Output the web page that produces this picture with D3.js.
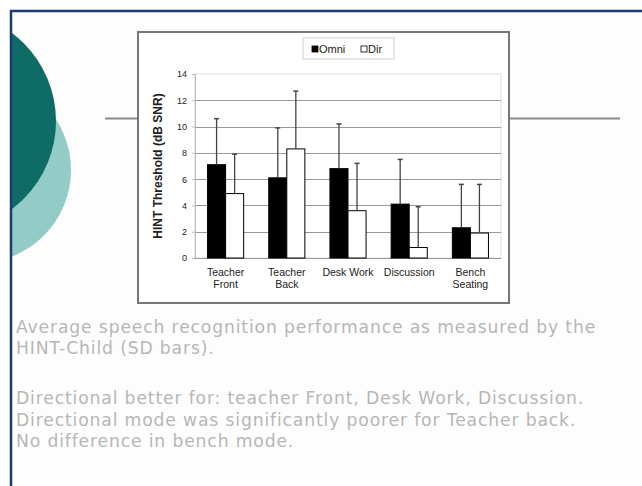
<!DOCTYPE html>
<html><head><meta charset="utf-8">
<script src="https://cdn.jsdelivr.net/npm/d3@7"></script>
<style>html,body{margin:0;padding:0;background:#fff;}svg{display:block;}</style>
</head><body>
<svg id="c" width="642" height="486"></svg>
<script>
const categories = [["Teacher","Front"],["Teacher","Back"],["Desk Work"],["Discussion"],["Bench","Seating"]];
const seriesNames = ["Omni","Dir"];
const omniMean = [7.1, 6.1, 6.8, 4.1, 2.3];
const dirMean  = [4.9, 8.3, 3.6, 0.8, 1.9];
const omniSD   = [3.5, 3.8, 3.4, 3.4, 3.3];
const dirSD    = [3.0, 4.4, 3.6, 3.1, 3.7];
const yTicks = [0, 2, 4, 6, 8, 10, 12, 14];
const yTitle = "HINT Threshold (dB SNR)";
const notes = [
  ["Average speech recognition performance as measured by the", 0],
  ["HINT-Child (SD bars).", 1],
  ["Directional better for: teacher Front, Desk Work, Discussion.", 3.35],
  ["Directional mode was significantly poorer for Teacher back.", 4.35],
  ["No difference in bench mode.", 5.35]
];

const svg = d3.select("#c");
const W = 642, H = 486;
const sans = "Liberation Sans, Arial, sans-serif";

// slide background & decorations
const defs = svg.append("defs");
defs.append("clipPath").attr("id","slideClip").append("rect").attr("x",12).attr("y",12).attr("width",W).attr("height",H);
const deco = svg.append("g").attr("clip-path","url(#slideClip)");
deco.append("rect").attr("x",12).attr("y",12).attr("width",W).attr("height",H).attr("fill","#fdfdfd");
deco.append("circle").attr("cx",-22).attr("cy",170).attr("r",93).attr("fill","#93cbc7");
deco.append("circle").attr("cx",-54).attr("cy",121).attr("r",110).attr("fill","#0e6b66");
// frame
svg.append("line").attr("x1",10).attr("x2",W).attr("y1",11).attr("y2",11).attr("stroke","#1a3a78").attr("stroke-width",2.5);
svg.append("line").attr("x1",11).attr("x2",11).attr("y1",10).attr("y2",H).attr("stroke","#1a3a78").attr("stroke-width",2.5);
// horizontal rule
svg.append("line").attr("x1",105).attr("x2",620).attr("y1",118.5).attr("y2",118.5).attr("stroke","#8a8a8a").attr("stroke-width",2);

// chart box
svg.append("rect").attr("x",138).attr("y",32).attr("width",371).attr("height",271)
  .attr("fill","#fff").attr("stroke","#777").attr("stroke-width",2);

const plot = {l:195, r:501, t:74, b:258};
const y = d3.scaleLinear().domain([0,14]).range([plot.b, plot.t]);
const x0 = d3.scaleBand().domain(d3.range(categories.length)).range([plot.l, plot.r]).padding(0);
const step = x0.step();
const x1 = d3.scaleBand().domain(seriesNames).range([step*0.205, step*0.795]).padding(0);

const g = svg.append("g");
// plot area border
g.append("rect").attr("x",plot.l).attr("y",plot.t).attr("width",plot.r-plot.l).attr("height",plot.b-plot.t)
  .attr("fill","none").attr("stroke","#dcdcdc").attr("stroke-width",1);
// gridlines
g.selectAll("line.grid").data(yTicks.filter(t=>t>0 && t<14)).join("line")
  .attr("x1",plot.l).attr("x2",plot.r).attr("y1",d=>Math.round(y(d))+0.5).attr("y2",d=>Math.round(y(d))+0.5)
  .attr("stroke","#999").attr("stroke-width",1);

// y axis
const yAxis = d3.axisLeft(y).tickValues(yTicks).tickSize(3).tickPadding(5);
const ya = g.append("g").attr("transform",`translate(${plot.l},0)`).call(yAxis);
ya.select(".domain").attr("stroke","#bbbbbb");
ya.selectAll(".tick line").attr("stroke","#bbbbbb");
ya.selectAll(".tick text").attr("font-family",sans).attr("font-size",9).attr("fill","#222");

// x axis baseline
g.append("line").attr("x1",plot.l).attr("x2",plot.r).attr("y1",plot.b+0.5).attr("y2",plot.b+0.5).attr("stroke","#999").attr("stroke-width",1);

// bars
const data = categories.map((c,i)=>({i, vals:[
  {s:"Omni", m:omniMean[i], sd:omniSD[i]},
  {s:"Dir", m:dirMean[i], sd:dirSD[i]}]}));
const grp = g.selectAll("g.cat").data(data).join("g").attr("transform",d=>`translate(${x0(d.i)},0)`);
grp.selectAll("rect").data(d=>d.vals).join("rect")
  .attr("x",d=>x1(d.s)).attr("width",x1.bandwidth())
  .attr("y",d=>y(d.m)).attr("height",d=>y(0)-y(d.m))
  .attr("fill",d=>d.s==="Omni"?"#000":"#fff").attr("stroke","#000").attr("stroke-width",1);
// error bars
grp.selectAll("line.err").data(d=>d.vals).join("line")
  .attr("x1",d=>x1(d.s)+x1.bandwidth()/2).attr("x2",d=>x1(d.s)+x1.bandwidth()/2)
  .attr("y1",d=>y(d.m)).attr("y2",d=>y(d.m+d.sd)).attr("stroke","#444").attr("stroke-width",1.3);
grp.selectAll("line.cap").data(d=>d.vals).join("line")
  .attr("x1",d=>x1(d.s)+x1.bandwidth()/2-2.5).attr("x2",d=>x1(d.s)+x1.bandwidth()/2+2.5)
  .attr("y1",d=>y(d.m+d.sd)).attr("y2",d=>y(d.m+d.sd)).attr("stroke","#444").attr("stroke-width",1.5);

// x labels
const xl = g.selectAll("text.xl").data(categories).join("text")
  .attr("x",(d,i)=>x0(i)+step/2).attr("y",276)
  .attr("text-anchor","middle").attr("font-family",sans)
  .attr("font-size",10.5).attr("fill","#222");
xl.selectAll("tspan").data(d=>d).join("tspan")
  .attr("x",function(){return this.parentNode.getAttribute("x");})
  .attr("dy",(d,i)=>i===0?0:11.5).text(d=>d);

// y title
g.append("text").attr("transform",`translate(162,${(plot.t+plot.b)/2}) rotate(-90)`)
  .attr("text-anchor","middle").attr("font-family",sans)
  .attr("font-size",12).attr("font-weight","bold").attr("fill","#222").text(yTitle);

// legend
const lg = svg.append("g");
lg.append("rect").attr("x",303).attr("y",38).attr("width",91).attr("height",21).attr("fill","#fff").attr("stroke","#cfcfcf");
const items = lg.selectAll("g.li").data(seriesNames).join("g").attr("transform",(d,i)=>`translate(${i===0?312:361},44)`);
items.append("rect").attr("width",6).attr("height",6).attr("y",2)
  .attr("fill",d=>d==="Omni"?"#000":"#fff").attr("stroke","#000").attr("stroke-width",0.8);
items.append("text").attr("x",7).attr("y",9).attr("font-family",sans)
  .attr("font-size",11).attr("fill","#222").text(d=>d);

// notes
svg.append("g").selectAll("text").data(notes).join("text")
  .attr("x",16).attr("y",d=>333+d[1]*21.3)
  .attr("font-family","DejaVu Sans, Verdana, sans-serif").attr("font-size",17.2)
  .attr("letter-spacing",0.85)
  .attr("fill","#b6b6b6").text(d=>d[0]);
</script>
</body></html>
